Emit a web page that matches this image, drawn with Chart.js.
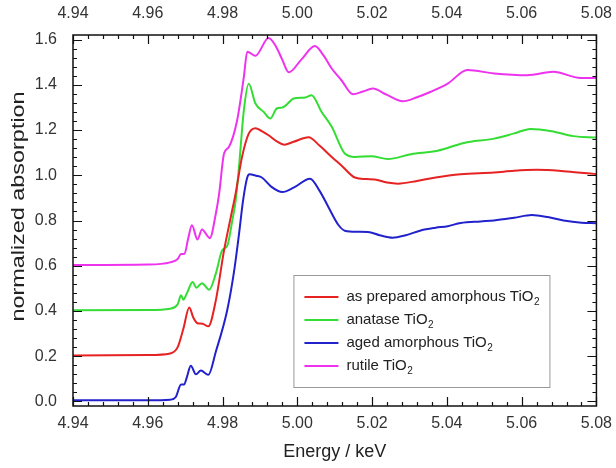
<!DOCTYPE html>
<html>
<head>
<meta charset="utf-8">
<script src="https://cdn.jsdelivr.net/npm/chart.js@4.4.1/dist/chart.umd.min.js"></script>
<style>
  html, body { margin: 0; padding: 0; background: #fff; }
  #wrap { position: relative; width: 616px; height: 468px; }
</style>
</head>
<body>
<div id="wrap"><canvas id="xanes"></canvas></div>
<script>
// tick labels
var xTicks = [4.94, 4.96, 4.98, 5.00, 5.02, 5.04, 5.06, 5.08];
var yTicks = [0.0, 0.2, 0.4, 0.6, 0.8, 1.0, 1.2, 1.4, 1.6];

// as prepared amorphous TiO2
var preparedE = [4.940, 4.960, 4.966, 4.968, 4.9695, 4.9711, 4.9722, 4.9733, 4.9746, 4.9762, 4.9782, 4.9804, 4.9822, 4.9835, 4.9852, 4.9870, 4.9888, 4.9905, 4.9923, 4.9945, 4.9965, 4.9990, 5.0030, 5.0060, 5.0092, 5.0120, 5.0154, 5.0185, 5.0207, 5.0240, 5.0269, 5.0320, 5.0370, 5.0437, 5.0526, 5.0580, 5.0640, 5.0700, 5.0750, 5.0800];
var preparedA = [0.203, 0.205, 0.212, 0.24, 0.32, 0.415, 0.37, 0.346, 0.344, 0.332, 0.447, 0.668, 0.815, 0.92, 1.08, 1.184, 1.208, 1.195, 1.177, 1.15, 1.135, 1.148, 1.168, 1.13, 1.081, 1.04, 0.99, 0.983, 0.981, 0.968, 0.963, 0.975, 0.99, 1.004, 1.012, 1.02, 1.024, 1.02, 1.012, 1.005];

// anatase TiO2
var anataseE = [4.940, 4.960, 4.966, 4.968, 4.9689, 4.9695, 4.9705, 4.9720, 4.9730, 4.9745, 4.9764, 4.9782, 4.9799, 4.9813, 4.9826, 4.9835, 4.9844, 4.9857, 4.9870, 4.9888, 4.9910, 4.9928, 4.9945, 4.9959, 4.9970, 4.9990, 5.0021, 5.0038, 5.0065, 5.0092, 5.0127, 5.0154, 5.0198, 5.0242, 5.0304, 5.0375, 5.0446, 5.0526, 5.0580, 5.0624, 5.0680, 5.0738, 5.0800];
var anataseA = [0.403, 0.404, 0.41, 0.43, 0.47, 0.45, 0.48, 0.528, 0.503, 0.523, 0.494, 0.565, 0.668, 0.69, 0.80, 0.887, 1.037, 1.288, 1.405, 1.317, 1.28, 1.251, 1.295, 1.299, 1.31, 1.339, 1.344, 1.354, 1.28, 1.214, 1.096, 1.081, 1.084, 1.072, 1.093, 1.108, 1.143, 1.162, 1.185, 1.205, 1.195, 1.173, 1.167];

// aged amorphous TiO2
var agedE = [4.940, 4.960, 4.966, 4.9675, 4.9689, 4.9697, 4.9705, 4.9715, 4.9729, 4.9742, 4.9762, 4.9782, 4.9812, 4.9830, 4.9844, 4.9855, 4.9866, 4.9872, 4.9890, 4.9905, 4.9930, 4.9960, 4.9990, 5.0034, 5.0060, 5.0083, 5.0110, 5.0127, 5.0160, 5.0189, 5.0220, 5.0255, 5.0290, 5.0330, 5.0370, 5.0402, 5.0437, 5.0490, 5.0526, 5.0580, 5.0627, 5.0670, 5.0712, 5.0760, 5.0800];
var agedA = [0.005, 0.005, 0.008, 0.02, 0.075, 0.075, 0.11, 0.158, 0.12, 0.137, 0.118, 0.22, 0.40, 0.566, 0.74, 0.89, 0.99, 1.005, 0.998, 0.99, 0.95, 0.926, 0.945, 0.985, 0.93, 0.86, 0.78, 0.755, 0.75, 0.749, 0.735, 0.724, 0.735, 0.756, 0.768, 0.775, 0.789, 0.796, 0.80, 0.812, 0.824, 0.815, 0.80, 0.79, 0.788];

// rutile TiO2
var rutileE = [4.940, 4.960, 4.966, 4.968, 4.9689, 4.9698, 4.9708, 4.9718, 4.9733, 4.9745, 4.9766, 4.9782, 4.9791, 4.9804, 4.9817, 4.9839, 4.9857, 4.9866, 4.9888, 4.9923, 4.9941, 4.9960, 4.9977, 5.0010, 5.0047, 5.0070, 5.0092, 5.0118, 5.0149, 5.0175, 5.0202, 5.0240, 5.0282, 5.0320, 5.0357, 5.0402, 5.0455, 5.0526, 5.0615, 5.0685, 5.0757, 5.0800];
var rutileA = [0.603, 0.605, 0.615, 0.63, 0.652, 0.652, 0.72, 0.779, 0.716, 0.76, 0.722, 0.83, 0.92, 1.096, 1.125, 1.243, 1.435, 1.546, 1.528, 1.607, 1.575, 1.51, 1.455, 1.51, 1.571, 1.53, 1.472, 1.42, 1.358, 1.37, 1.383, 1.355, 1.327, 1.345, 1.369, 1.405, 1.465, 1.45, 1.442, 1.457, 1.43, 1.43];

var seriesLabels = ['as prepared amorphous TiO2', 'anatase TiO2', 'aged amorphous TiO2', 'rutile TiO2'];
var seriesColors = ['#e62222', '#33dd33', '#2222cc', '#ee33ee'];
var yTitle = 'normalized absorption';

function toPoints(xs, ys) {
  return xs.map(function(x, i) { return { x: x, y: ys[i] }; });
}

var FONT = 'Liberation Sans, Arial, Helvetica, sans-serif';

// box + inward ticks on all four sides
var framePlugin = {
  id: 'frame',
  afterDatasetsDraw: function(chart) {
    var ctx = chart.ctx, a = chart.chartArea;
    var xs = chart.scales.x, ys = chart.scales.y;
    ctx.save();
    ctx.strokeStyle = '#111';
    ctx.lineWidth = 1.5;
    ctx.strokeRect(a.left, a.top, a.right - a.left, a.bottom - a.top);
    ctx.lineWidth = 1.2;
    ctx.beginPath();
    var i, v, p, len;
    for (i = 0; i <= 35; i++) {
      v = 4.94 + i * 0.004;
      p = Math.round(xs.getPixelForValue(v)) + 0.5;
      len = (i % 5 === 0) ? 9 : 4;
      ctx.moveTo(p, a.bottom); ctx.lineTo(p, a.bottom - len);
      ctx.moveTo(p, a.top); ctx.lineTo(p, a.top + len);
    }
    for (i = 0; i <= 40; i++) {
      v = i * 0.04;
      p = Math.round(ys.getPixelForValue(v)) + 0.5;
      len = (i % 5 === 0) ? 9 : 4;
      ctx.moveTo(a.left, p); ctx.lineTo(a.left + len, p);
      ctx.moveTo(a.right, p); ctx.lineTo(a.right - len, p);
    }
    ctx.stroke();
    ctx.restore();
  }
};

// y title, a bit stretched along its length like the source figure
var yTitlePlugin = {
  id: 'yTitle',
  afterDraw: function(chart) {
    var ctx = chart.ctx, a = chart.chartArea;
    ctx.save();
    ctx.translate(19, (a.top + a.bottom) / 2 - 14);
    ctx.rotate(-Math.PI / 2);
    ctx.scale(1.3, 1);
    ctx.font = '18px ' + FONT;
    ctx.fillStyle = '#222';
    ctx.textAlign = 'center';
    ctx.textBaseline = 'middle';
    ctx.fillText(yTitle, 0, 0);
    ctx.restore();
  }
};

// legend inside the plot, with subscript 2
var boxLegendPlugin = {
  id: 'boxLegend',
  afterDraw: function(chart) {
    var ctx = chart.ctx, a = chart.chartArea;
    var w = 256, h = 112;
    var left = a.right - 47 - w, top = a.bottom - 19 - h;
    ctx.save();
    ctx.fillStyle = '#fff';
    ctx.fillRect(left, top, w, h);
    ctx.strokeStyle = '#999';
    ctx.lineWidth = 1;
    ctx.strokeRect(left + 0.5, top + 0.5, w, h);
    chart.data.datasets.forEach(function(ds, i) {
      var y = top + 22 + i * 23;
      ctx.strokeStyle = ds.borderColor;
      ctx.lineWidth = 2;
      ctx.beginPath();
      ctx.moveTo(left + 11, y); ctx.lineTo(left + 45, y);
      ctx.stroke();
      var txt = ds.label.replace(/2$/, '');
      ctx.fillStyle = '#222';
      ctx.font = '15px ' + FONT;
      ctx.textBaseline = 'middle';
      ctx.textAlign = 'left';
      ctx.fillText(txt, left + 53, y);
      var tw = ctx.measureText(txt).width;
      ctx.font = '10px ' + FONT;
      ctx.fillText('2', left + 53 + tw + 0.5, y + 5);
    });
    ctx.restore();
  }
};

var datasets = [
  toPoints(preparedE, preparedA),
  toPoints(anataseE, anataseA),
  toPoints(agedE, agedA),
  toPoints(rutileE, rutileA)
].map(function(pts, i) {
  return {
    label: seriesLabels[i],
    data: pts,
    borderColor: seriesColors[i],
    backgroundColor: seriesColors[i],
    borderWidth: 2,
    pointRadius: 0,
    cubicInterpolationMode: 'monotone',
    fill: false
  };
});

function fixTicks(values) {
  return function(scale) {
    scale.ticks = values.map(function(v) { return { value: v }; });
  };
}

new Chart(document.getElementById('xanes'), {
  type: 'line',
  data: { datasets: datasets },
  plugins: [framePlugin, yTitlePlugin, boxLegendPlugin],
  options: {
    responsive: true,
    maintainAspectRatio: false,
    animation: false,
    layout: { padding: { left: 0, top: 0, bottom: 0, right: 16 }, autoPadding: false },
    plugins: { legend: { display: false }, tooltip: { enabled: false } },
    scales: {
      x: {
        type: 'linear', position: 'bottom', min: 4.94, max: 5.08,
        grid: { display: false }, border: { display: false },
        afterBuildTicks: fixTicks(xTicks),
        afterFit: function(s) { s.height = 62; },
        ticks: {
          color: '#333', padding: 0, maxRotation: 0, autoSkip: false,
          font: { family: FONT, size: 16 },
          callback: function(v) { return Number(v).toFixed(2); }
        },
        title: {
          display: true, text: 'Energy / keV', color: '#222',
          font: { family: FONT, size: 18 }, padding: { top: 0, bottom: 5 }
        }
      },
      xTop: {
        type: 'linear', position: 'top', min: 4.94, max: 5.08,
        grid: { display: false }, border: { display: false },
        afterBuildTicks: fixTicks(xTicks),
        afterFit: function(s) { s.height = 35; },
        ticks: {
          color: '#333', padding: 4, maxRotation: 0, autoSkip: false,
          font: { family: FONT, size: 16 },
          callback: function(v) { return Number(v).toFixed(2); }
        }
      },
      y: {
        type: 'linear', position: 'left', min: -0.02, max: 1.62,
        grid: { display: false }, border: { display: false },
        afterBuildTicks: fixTicks(yTicks),
        afterFit: function(s) { s.width = 73; },
        ticks: {
          color: '#333', padding: 8, autoSkip: false,
          font: { family: FONT, size: 16 },
          callback: function(v) { return Number(v).toFixed(1); }
        }
      }
    }
  }
});
</script>
</body>
</html>
